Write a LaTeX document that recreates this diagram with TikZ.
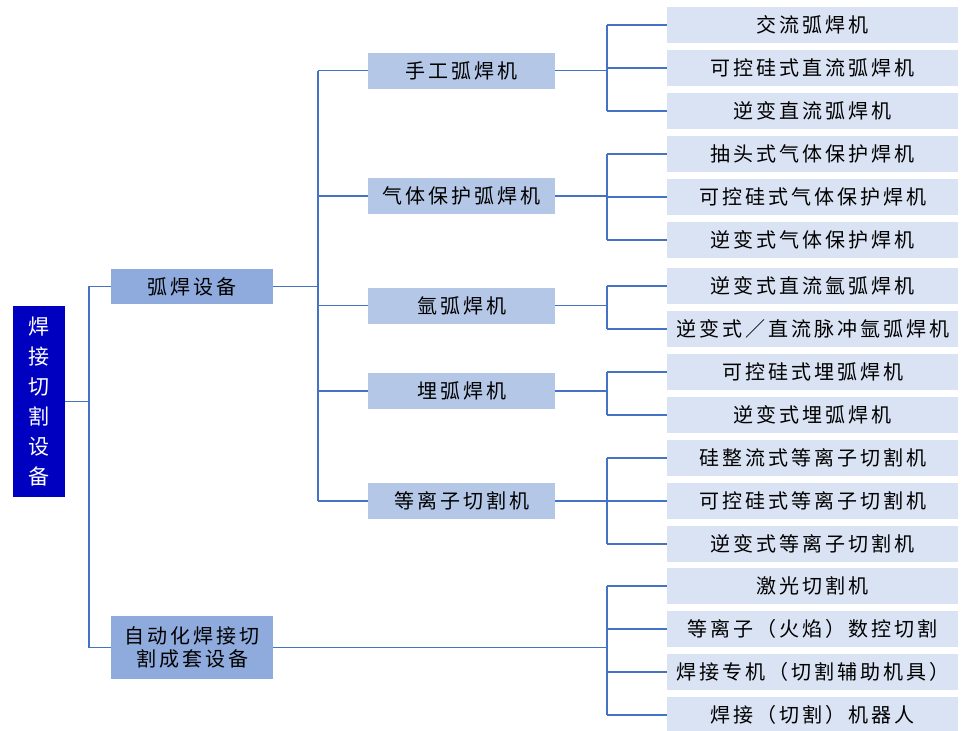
\documentclass[tikz,border=0pt]{standalone}
\usepackage{fontspec}
\newfontfamily\cjk{Noto Sans CJK SC}[LetterSpace=15]
\newfontfamily\cjkroot{Noto Sans CJK SC}
\definecolor{rootc}{HTML}{0000C0}
\definecolor{lonec}{HTML}{8FAADC}
\definecolor{ltwoc}{HTML}{B4C7E7}
\definecolor{leafc}{HTML}{DAE3F3}
\definecolor{linec}{HTML}{4472C4}
\begin{document}
\begin{tikzpicture}[x=1pt,y=-1pt,
  base/.style={rectangle,inner sep=0pt,anchor=center,text=black,
    font=\cjk\fontsize{20}{23}\selectfont},
  rootbox/.style={rectangle,inner sep=0pt,fill=rootc,text=white,align=center,
    minimum width=52pt,minimum height=191pt,font=\cjkroot\fontsize{21}{30}\selectfont},
  lone/.style={base,fill=lonec,minimum width=162pt,align=center},
  ltwo/.style={base,fill=ltwoc,minimum width=187pt,minimum height=36pt},
  leaf/.style={base,fill=leafc,minimum width=291pt,minimum height=36pt},
  conn/.style={draw=linec,line width=1.9pt}]
\useasboundingbox (0,0) rectangle (962,731);

% root
\node[rootbox] (root) at (39,401.5) {焊\\接\\切\\割\\设\\备};

% level 1
\node[lone,minimum height=35pt] (hh) at (192,286.5) {弧焊设备};
\node[lone,minimum height=63pt] (zd) at (192,647.5) {自动化焊接切\\割成套设备};

% level 2
\node[ltwo] (sg) at (461.5,70.5) {手工弧焊机};
\node[ltwo] (qt) at (461.5,196) {气体保护弧焊机};
\node[ltwo] (ya) at (461.5,305.5) {氩弧焊机};
\node[ltwo] (mh) at (461.5,391) {埋弧焊机};
\node[ltwo] (dl) at (461.5,501) {等离子切割机};

% leaves
\node[leaf] (f1) at (812.5,25) {交流弧焊机};
\node[leaf] (f2) at (812.5,68) {可控硅式直流弧焊机};
\node[leaf] (f3) at (812.5,111) {逆变直流弧焊机};
\node[leaf] (f4) at (812.5,154) {抽头式气体保护焊机};
\node[leaf] (f5) at (812.5,197) {可控硅式气体保护焊机};
\node[leaf] (f6) at (812.5,240) {逆变式气体保护焊机};
\node[leaf] (f7) at (812.5,286) {逆变式直流氩弧焊机};
\node[leaf] (f8) at (812.5,329) {逆变式／直流脉冲氩弧焊机};
\node[leaf] (f9) at (812.5,372) {可控硅式埋弧焊机};
\node[leaf] (f10) at (812.5,415) {逆变式埋弧焊机};
\node[leaf] (f11) at (812.5,458) {硅整流式等离子切割机};
\node[leaf] (f12) at (812.5,501) {可控硅式等离子切割机};
\node[leaf] (f13) at (812.5,544) {逆变式等离子切割机};
\node[leaf] (f14) at (812.5,586) {激光切割机};
\node[leaf] (f15) at (812.5,629) {等离子（火焰）数控切割};
\node[leaf] (f16) at (812.5,672) {焊接专机（切割辅助机具）};
\node[leaf] (f17) at (812.5,715) {焊接（切割）机器人};

% buses
\coordinate (bz) at (89,402);
\coordinate (bo) at (318,0);
\coordinate (bt) at (607,0);

% root to level 1
\draw[conn] (root.east) -- (root.east -| bz);
\draw[conn] (hh.west) -| (bz) |- (zd.west);

% level 1 to level 2
\draw[conn] (hh.east) -- (hh.east -| bo);
\draw[conn] (sg.west -| bo) -- (dl.west -| bo);
\foreach \n in {sg,qt,ya,mh,dl} \draw[conn] (\n.west -| bo) -- (\n.west);

% level 2 to leaves
\foreach \p/\a/\b/\list in {sg/f1/f3/{f1,f2,f3}, qt/f4/f6/{f4,f5,f6}, ya/f7/f8/{f7,f8},
    mh/f9/f10/{f9,f10}, dl/f11/f13/{f11,f12,f13}, zd/f14/f17/{f14,f15,f16,f17}}{
  \draw[conn] (\p.east) -- (\p.east -| bt);
  \draw[conn] (\a.west -| bt) -- (\b.west -| bt);
  \foreach \l in \list \draw[conn] (\l.west -| bt) -- (\l.west);
}
\end{tikzpicture}
\end{document}
